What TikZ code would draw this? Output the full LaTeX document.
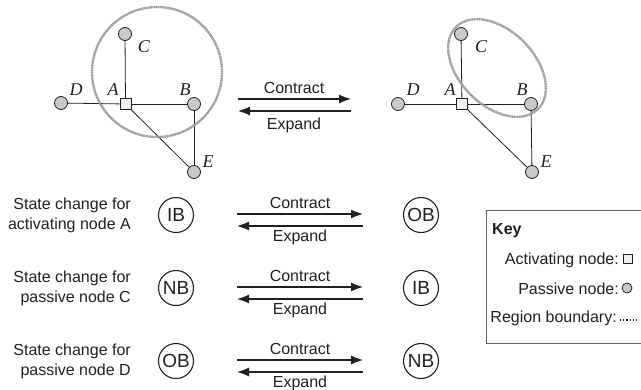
\documentclass[tikz,border=0pt]{standalone}
\usepackage{fontspec}
\setmainfont{Liberation Sans}
\newfontfamily\labelfont{Liberation Serif}
\usetikzlibrary{arrows.meta,shapes.geometric}
\definecolor{ink}{HTML}{231F20}
\definecolor{nodegray}{HTML}{C9C9CB}
\definecolor{boxgray}{HTML}{F0F0F0}
\definecolor{regiongray}{HTML}{9A9A9A}
\begin{document}
\begin{tikzpicture}[x=1pt,y=-1pt,
  font=\fontsize{16}{19}\selectfont, text=ink,
  actnode/.style={draw=ink, line width=0.8pt, fill=boxgray, minimum size=11pt, inner sep=0pt, shape=rectangle},
  pasnode/.style={draw=ink, line width=0.8pt, fill=nodegray, circle, minimum size=13pt, inner sep=0pt},
  edge/.style={draw=ink, line width=0.8pt},
  vlabel/.style={font=\labelfont\itshape\fontsize{18}{18}\selectfont, inner sep=0pt},
  region/.style={draw=regiongray, line width=2.4pt, dash pattern=on 1.2pt off 0.5pt},
  statenode/.style={draw=ink, line width=1.1pt, circle, minimum size=35pt, inner sep=0pt, font=\fontsize{19}{19}\selectfont},
  arr/.style={draw=ink, line width=1.1pt, -{Latex[length=12pt,width=9pt]}},
  desc/.style={align=right, anchor=east, inner sep=0pt, font=\fontsize{16}{20}\selectfont},
  keytext/.style={anchor=east, inner sep=0pt}
]
\useasboundingbox (0,0) rectangle (641,389);

% ---------- graph before contraction ----------
\node[pasnode] (lC) at (125,34) {};
\node[pasnode] (lD) at (61,103) {};
\node[pasnode] (lB) at (194,104) {};
\node[pasnode] (lE) at (194,172) {};
\node[actnode] (lA) at (125.5,104) {};
\draw[edge] (lA) -- (lC);
\draw[edge] (lA) -- (lD);
\draw[edge] (lA) -- (lB);
\draw[edge] (lA.south east) -- (lE);
\draw[edge] (lB) -- (lE);
\node[vlabel] (tC) at (144,47) {C};
\node[vlabel] (tD) at (76,90) {D};
\node[vlabel] (tA) at (113,90) {A};
\node[vlabel] (tB) at (185,90) {B};
\node[vlabel] (tE) at (208,162) {E};
\node[region, circle, minimum size=130pt, inner sep=0pt] (lreg) at (157,72) {};

% ---------- graph after contraction ----------
\node[pasnode] (rC) at (461,34) {};
\node[pasnode] (rD) at (398,104) {};
\node[pasnode] (rB) at (531,104) {};
\node[pasnode] (rE) at (532,172) {};
\node[actnode] (rA) at (462,104) {};
\draw[edge] (rA) -- (rC);
\draw[edge] (rA) -- (rD);
\draw[edge] (rA) -- (rB);
\draw[edge] (rA.south east) -- (rE);
\draw[edge] (rB) -- (rE);
\node[vlabel] (uC) at (481,47) {C};
\node[vlabel] (uD) at (413,90) {D};
\node[vlabel] (uA) at (450,90) {A};
\node[vlabel] (uB) at (522,90) {B};
\node[vlabel] (uE) at (546,162) {E};
\node[region, ellipse, minimum width=116pt, minimum height=75pt, inner sep=0pt, rotate=-45] (rreg) at (497,68) {};

% ---------- top transition arrows ----------
\coordinate (ta1) at (238,99);  \coordinate (ta2) at (351,99);
\coordinate (tb1) at (351,111); \coordinate (tb2) at (238,111);
\draw[arr] (ta1) -- (ta2);
\draw[arr] (tb1) -- (tb2);
\node (tcon) at (294,88) {Contract};
\node (texp) at (294,125) {Expand};

% ---------- state changes ----------
\foreach \name/\y/\txt/\from/\to in {
  a/215/{State change for\\activating node A}/IB/OB,
  c/288/{State change for\\passive node C}/NB/IB,
  d/361/{State change for\\passive node D}/OB/NB} {
  \node[desc] (desc\name) at (131,\y) {\txt};
  \node[statenode] (from\name) at (176,\y) {\from};
  \node[statenode] (to\name) at (421,\y) {\to};
  \coordinate (p\name1) at (237,\y-1);  \coordinate (p\name2) at (363,\y-1);
  \coordinate (q\name1) at (363,\y+11); \coordinate (q\name2) at (237,\y+11);
  \draw[arr] (p\name1) -- (p\name2);
  \draw[arr] (q\name1) -- (q\name2);
  \node (con\name) at (300,\y-12) {Contract};
  \node (exp\name) at (300,\y+22) {Expand};
}

% ---------- key ----------
\node[draw=ink!70, line width=1pt, rectangle, minimum width=170pt, minimum height=133pt, anchor=north west, inner sep=0pt] (keybox) at (486,210) {};
\node[anchor=west, inner sep=0pt, font=\bfseries\fontsize{16}{19}\selectfont] (keyhead) at (492,231) {Key};
\node[keytext] (kact) at (619,260) {Activating node:};
\node[actnode, minimum size=9pt] (kactsym) at (628,259) {};
\node[keytext] (kpas) at (619,289) {Passive node:};
\node[pasnode, minimum size=10pt] (kpassym) at (627,288) {};
\node[keytext] (kreg) at (617,318) {Region boundary:};
\coordinate (kr1) at (620,320); \coordinate (kr2) at (638,320);
\draw[ink, line width=1.2pt, dash pattern=on 1.2pt off 2pt] (kr1) -- (kr2);
\end{tikzpicture}
\end{document}
